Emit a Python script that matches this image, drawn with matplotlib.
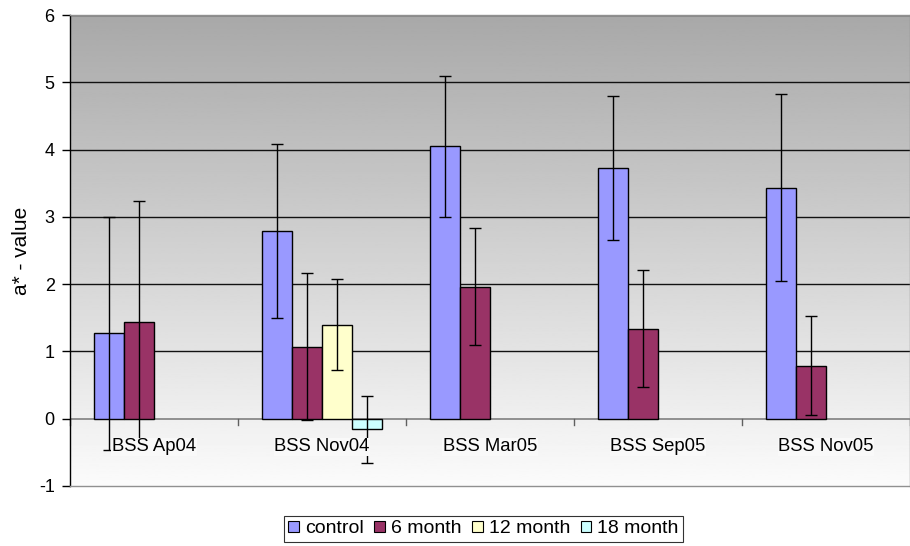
import numpy as np
import matplotlib
matplotlib.use("Agg")
import matplotlib.pyplot as plt
from matplotlib.patches import Patch

plt.rcParams['font.family'] = ['Liberation Sans', 'DejaVu Sans']

categories = ["BSS Ap04", "BSS Nov04", "BSS Mar05", "BSS Sep05", "BSS Nov05"]
series_names = ["control", "6 month", "12 month", "18 month"]
control = [1.27, 2.79, 4.05, 3.73, 3.43]
month6 = [1.43, 1.07, 1.96, 1.34, 0.79]
month12 = [np.nan, 1.40, np.nan, np.nan, np.nan]
month18 = [np.nan, -0.16, np.nan, np.nan, np.nan]
err_control = [1.73, 1.30, 1.05, 1.07, 1.39]
err_month6 = [1.81, 1.09, 0.87, 0.87, 0.74]
err_month12 = [np.nan, 0.67, np.nan, np.nan, np.nan]
err_month18 = [np.nan, 0.50, np.nan, np.nan, np.nan]
y_ticks = [-1, 0, 1, 2, 3, 4, 5, 6]

values = [control, month6, month12, month18]
errors = [err_control, err_month6, err_month12, err_month18]
colors = ["#9999FF", "#993366", "#FFFFCC", "#CCFFFF"]

fig = plt.figure(figsize=(9.1, 5.46), dpi=100)
ax = fig.add_axes([70 / 910, 1 - 486 / 546, 840 / 910, 471 / 546])

ymin, ymax = -1, 6
xmin, xmax = -0.5, len(categories) - 0.5

# vertical gray-to-white gradient behind the bars
grad = np.linspace(0.66, 0.985, 256)[:, None]
ax.imshow(grad, extent=[xmin, xmax, ymin, ymax], aspect='auto',
          cmap='gray', vmin=0, vmax=1, origin='upper', zorder=0)

for y in y_ticks[2:]:
    ax.axhline(y, color='#111111', lw=1.0, zorder=1)
ax.axhline(0, color='#808080', lw=1.2, zorder=1)

width = 0.18
x = np.arange(len(categories))
for i, (vals, errs, col) in enumerate(zip(values, errors, colors)):
    offs = (i - 1.5) * width
    vals = np.array(vals, dtype=float)
    errs = np.array(errs, dtype=float)
    mask = ~np.isnan(vals)
    ax.bar(x[mask] + offs, vals[mask], width=width, color=col,
           edgecolor='black', linewidth=1.0, zorder=2)
    ax.errorbar(x[mask] + offs, vals[mask], yerr=errs[mask], fmt='none',
                ecolor='black', elinewidth=1.0, capsize=4.5, capthick=1.0,
                zorder=3)

# category labels sit just under the zero line, on an opaque box
for xi, lab in zip(x, categories):
    ax.text(xi, -0.42, lab, ha='center', va='center', fontsize=13.3,
            color='black', zorder=4,
            bbox=dict(facecolor='#F9F9F9', edgecolor='none', pad=0.5))

# category separators on the zero line
for b in np.arange(xmin, xmax + 0.01, 1.0):
    ax.plot([b, b], [0, -0.09], color='#606060', lw=1.0, zorder=1,
            clip_on=False)

ax.set_xlim(xmin, xmax)
ax.set_ylim(ymin, ymax)
ax.set_xticks([])
ax.set_yticks(y_ticks)
ax.set_yticklabels([str(t) for t in y_ticks], fontsize=13)
ax.tick_params(axis='y', direction='out', length=6, width=1, pad=5,
               colors='black')
ax.set_ylabel("a* - value", fontsize=15, labelpad=6)

for side in ['top', 'right', 'bottom']:
    ax.spines[side].set_color('#909090')
    ax.spines[side].set_linewidth(1.0)
ax.spines['left'].set_color('black')
ax.spines['left'].set_linewidth(1.0)

handles = [Patch(facecolor=c, edgecolor='black', linewidth=0.8) for c in colors]
leg = fig.legend(handles, series_names, loc='upper center',
                 bbox_to_anchor=(483.5 / 910, 1 - 515.5 / 546), ncol=4,
                 fontsize=14, frameon=True, fancybox=False,
                 handlelength=0.55, handleheight=0.55, handletextpad=0.3,
                 columnspacing=0.55, borderpad=0.25, borderaxespad=0)
leg.get_frame().set_edgecolor('black')
leg.get_frame().set_linewidth(0.8)

fig.savefig("out.png", dpi=100)
